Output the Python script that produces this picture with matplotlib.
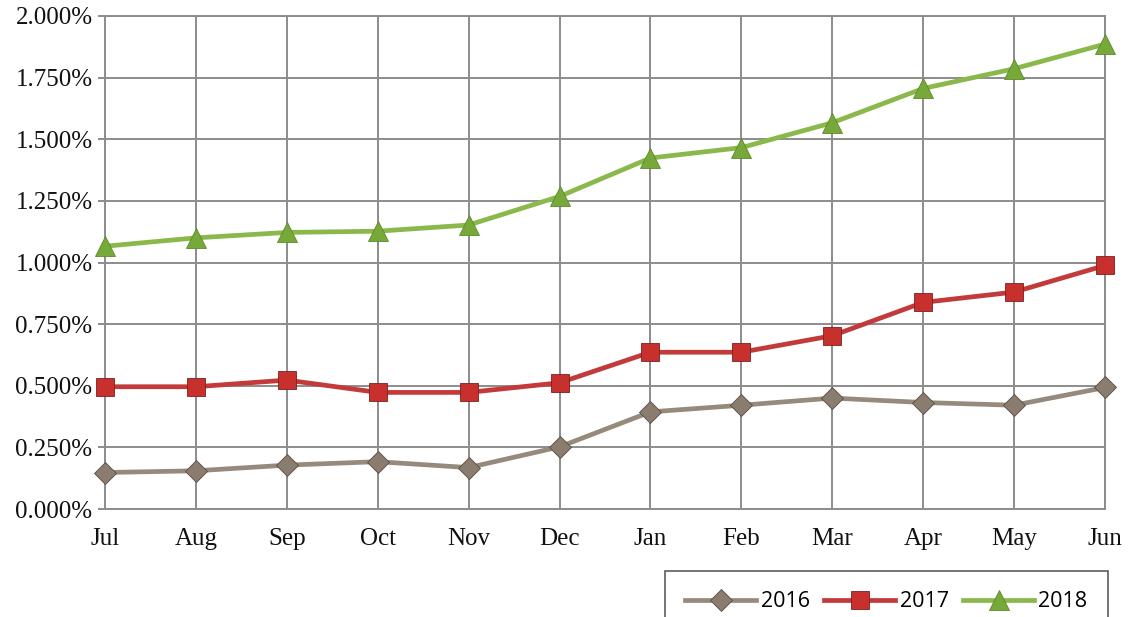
import matplotlib
matplotlib.use("Agg")
import matplotlib.pyplot as plt
from matplotlib.ticker import FuncFormatter, MultipleLocator

months = ["Jul", "Aug", "Sep", "Oct", "Nov", "Dec", "Jan", "Feb", "Mar", "Apr", "May", "Jun"]
s2016 = [0.148, 0.155, 0.178, 0.192, 0.168, 0.252, 0.394, 0.421, 0.450, 0.432, 0.421, 0.493]
s2017 = [0.496, 0.496, 0.523, 0.473, 0.473, 0.512, 0.636, 0.636, 0.703, 0.838, 0.880, 0.988]
s2018 = [1.066, 1.100, 1.122, 1.127, 1.152, 1.268, 1.424, 1.466, 1.567, 1.706, 1.786, 1.886]

series = [
    ("2016", s2016, "#968a7d", "#8a7d70", "D", 11, "#5a4a40"),
    ("2017", s2017, "#c23a3a", "#c8302e", "s", 13, "#7a2020"),
    ("2018", s2018, "#8ab84a", "#76a83a", "^", 14, "#5d8a2a"),
]

fig = plt.figure(figsize=(11.32, 6.17), dpi=100)
ax = fig.add_axes([105 / 1132, (617 - 509) / 617, 1000 / 1132, (509 - 16) / 617])

x = list(range(len(months)))
for name, vals, lc, mc, mk, ms, ec in series:
    ax.plot(x, vals, color=lc, lw=3.4, marker=mk, markersize=ms,
            markerfacecolor=mc, markeredgecolor=ec, markeredgewidth=0.6,
            label=name, zorder=3, solid_joinstyle="round", clip_on=False)

ax.set_xlim(0, len(months) - 1)
ax.set_ylim(0, 2.0)
ax.yaxis.set_major_locator(MultipleLocator(0.25))
ax.yaxis.set_major_formatter(FuncFormatter(lambda v, p: f"{v:.3f}%"))
ax.set_xticks(x)
ax.set_xticklabels(months)

ax.grid(True, color="#8c8c8c", lw=1.4, zorder=0)
for sp in ax.spines.values():
    sp.set_color("#8c8c8c")
    sp.set_linewidth(1.4)

ax.tick_params(axis="y", length=5, width=1.4, color="#8c8c8c", pad=4)
ax.tick_params(axis="x", length=0, pad=14)
for lab in ax.get_yticklabels() + ax.get_xticklabels():
    lab.set_fontfamily("Liberation Serif")
    lab.set_fontsize(18)
    lab.set_color("#111111")

top = (617 - 571) / 617
leg = fig.legend(loc="upper left", bbox_to_anchor=(665 / 1132, top - 0.01, 443 / 1132, 0.01),
                 mode="expand", ncol=3, frameon=True, fancybox=False, borderaxespad=0,
                 prop={"family": "Open Sans", "size": 15.5}, handlelength=3.3,
                 borderpad=0.95, handletextpad=0.2, columnspacing=1.0)
leg.get_frame().set_edgecolor("#333333")
leg.get_frame().set_linewidth(1.2)

fig.savefig("out.png", dpi=100)
